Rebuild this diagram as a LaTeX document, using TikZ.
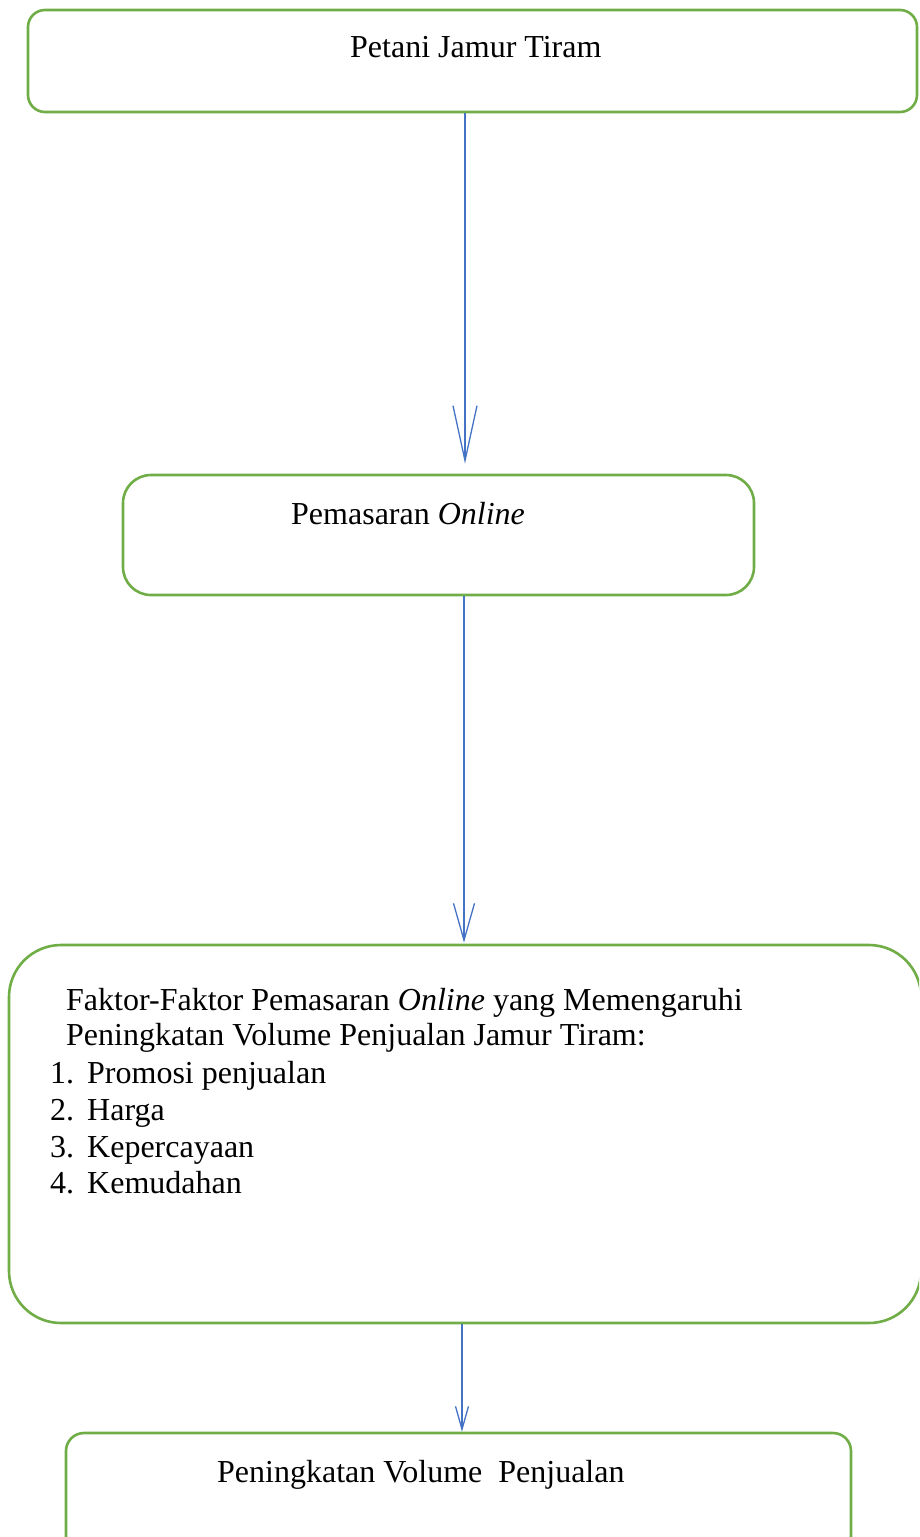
\documentclass[tikz,border=0pt]{standalone}
\usepackage{fontspec}
\setmainfont{Liberation Serif}
\usetikzlibrary{arrows.meta}
\definecolor{boxgreen}{RGB}{112,173,71}
\definecolor{arrowblue}{RGB}{68,114,196}
\begin{document}
\begin{tikzpicture}[x=1pt,y=-1pt,
  box/.style={draw=boxgreen,line width=2.6pt,inner sep=0pt},
  arr/.style={draw=arrowblue,line width=1.3pt},
  txt/.style={anchor=base west,inner sep=0pt,font=\fontsize{32}{37}\selectfont}]
\useasboundingbox (0,0) rectangle (919,1537);
\clip (0,0) rectangle (919,1537);
% boxes
\node[box,rounded corners=17pt,minimum width=889pt,minimum height=102pt] (b1) at (472.5,61) {};
\node[box,rounded corners=28pt,minimum width=631pt,minimum height=120pt] (b2) at (438.5,535) {};
\node[box,rounded corners=52pt,minimum width=912pt,minimum height=378pt] (b3) at (465,1134) {};
\node[box,rounded corners=18pt,minimum width=785pt,minimum height=170pt] (b4) at (458.5,1518) {};
% texts
\node[txt] (t1) at (350,57) {Petani Jamur Tiram};
\node[txt] (t2) at (291,524) {Pemasaran \textit{Online}};
\node[txt] (t3a) at (66,1010) {Faktor-Faktor Pemasaran \textit{Online} yang Memengaruhi};
\node[txt] (t3b) at (66,1045) {Peningkatan Volume Penjualan Jamur Tiram:};
\node[txt] (n1) at (50,1083) {1.};
\node[txt] (i1) at (87,1083) {Promosi penjualan};
\node[txt] (n2) at (50,1120) {2.};
\node[txt] (i2) at (87,1120) {Harga};
\node[txt] (n3) at (50,1157) {3.};
\node[txt] (i3) at (87,1157) {Kepercayaan};
\node[txt] (n4) at (50,1193) {4.};
\node[txt] (i4) at (87,1193) {Kemudahan};
\node[txt] (t4) at (217,1482) {Peningkatan Volume\ \ Penjualan};
% connectors
\coordinate (x1) at (465,0);
\coordinate (x2) at (464,0);
\coordinate (x3) at (462,0);
\draw[arr,-{Straight Barb[length=55pt,width=24pt]},shorten >=10pt] (b1.south -| x1) -- (b2.north -| x1);
\draw[arr,-{Straight Barb[length=37pt,width=21pt]},shorten >=1pt] (b2.south -| x2) -- (b3.north -| x2);
\draw[arr,-{Straight Barb[length=23pt,width=13pt]}] (b3.south -| x3) -- (b4.north -| x3);
\end{tikzpicture}
\end{document}
